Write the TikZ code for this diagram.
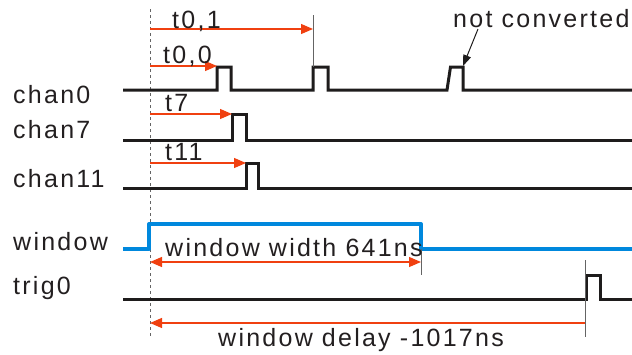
\documentclass[tikz,border=0pt]{standalone}
\usepackage{fontspec}
\setmainfont[LetterSpace=9]{Liberation Sans}
\usetikzlibrary{arrows.meta}
\definecolor{sigblack}{RGB}{30,28,28}
\definecolor{winblue}{RGB}{0,136,221}
\definecolor{arrred}{RGB}{240,64,16}
\definecolor{txtcol}{RGB}{35,31,32}
\definecolor{guide}{RGB}{100,100,100}
\tikzset{
  signal/.style={draw=sigblack, line width=3pt, line join=miter},
  winsig/.style={draw=winblue, line width=4pt, line join=round},
  timearrow/.style={draw=arrred, line width=1.2pt, -{Triangle[length=12pt,width=10pt]}},
  guideline/.style={draw=guide, line width=1pt},
  dashguide/.style={draw=guide, line width=0.9pt, dash pattern=on 3pt off 3pt},
  lbl/.style={anchor=base west, inner sep=0pt, font=\fontsize{25}{28}\selectfont, text=txtcol},
}
\begin{document}
\begin{tikzpicture}[x=1pt,y=-1pt]
\useasboundingbox (0,0) rectangle (632,354);
% reference dashed line
\coordinate (d0) at (150,9);
\coordinate (d1) at (150,337);
\draw[dashguide] (d0) -- (d1);

% labels
\node[lbl] (lc0) at (13,103) {chan0};
\node[lbl] (lc7) at (13,138) {chan7};
\node[lbl] (lc11) at (13,187) {chan11};
\node[lbl] (lwin) at (13,250) {window};
\node[lbl] (ltrig) at (13,294) {trig0};

% signals
\draw[signal] (123,90) -- (217,90) -- (217,67) -- (231,67) -- (231,90) -- (313,90) -- (313,67) -- (328,67) -- (328,90) -- (447,90) -- (450.5,67) -- (463,67) -- (463,90) -- (632,90);
\draw[signal] (123,140) -- (232,140) -- (232,114) -- (246,114) -- (246,140) -- (632,140);
\draw[signal] (123,188) -- (246,188) -- (246,163) -- (258,163) -- (258,188) -- (632,188);
\draw[winsig] (123,249) -- (149,249) -- (149,224) -- (421,224) -- (421,249) -- (632,249);
\draw[signal] (123,299) -- (586,299) -- (586,275) -- (600,275) -- (600,299) -- (632,299);

% guide lines
\coordinate (g01a) at (313,15);
\coordinate (g01b) at (313,67);
\draw[guideline] (g01a) -- (g01b);
\coordinate (gwa) at (421,249);
\coordinate (gwb) at (421,275);
\draw[guideline] (gwa) -- (gwb);
\coordinate (gta) at (585,260);
\coordinate (gtb) at (585,337);
\draw[guideline] (gta) -- (gtb);

% timing arrows
\coordinate (a01s) at (150,29);  \coordinate (a01e) at (313,29);
\draw[timearrow] (a01s) -- (a01e);
\coordinate (a00s) at (150,66);  \coordinate (a00e) at (217,66);
\draw[timearrow] (a00s) -- (a00e);
\coordinate (a7s) at (150,114);  \coordinate (a7e) at (232,114);
\draw[timearrow] (a7s) -- (a7e);
\coordinate (a11s) at (150,163); \coordinate (a11e) at (246,163);
\draw[timearrow] (a11s) -- (a11e);
\coordinate (aws) at (150,262);  \coordinate (awe) at (421,262);
\draw[timearrow, {Triangle[length=12pt,width=10pt]}-{Triangle[length=12pt,width=10pt]}] (aws) -- (awe);
\coordinate (ads) at (585,323);  \coordinate (ade) at (150,323);
\draw[timearrow] (ads) -- (ade);

% arrow labels
\node[lbl] (t01) at (172,28) {t0,1};
\node[lbl] (t00) at (163,63) {t0,0};
\node[lbl] (t7) at (165,111) {t7};
\node[lbl] (t11) at (165,160) {t11};
\node[lbl] (ww) at (165,256) {window width 641ns};
\node[lbl] (wd) at (218,346) {window delay -1017ns};

% not converted
\node[lbl] (nc) at (453,27) {not converted};
\coordinate (ncs) at (478,29);
\coordinate (nce) at (463,66);
\draw[draw=sigblack, line width=1pt, -{Triangle[length=11pt,width=8pt]}] (ncs) -- (nce);
\end{tikzpicture}
\end{document}
